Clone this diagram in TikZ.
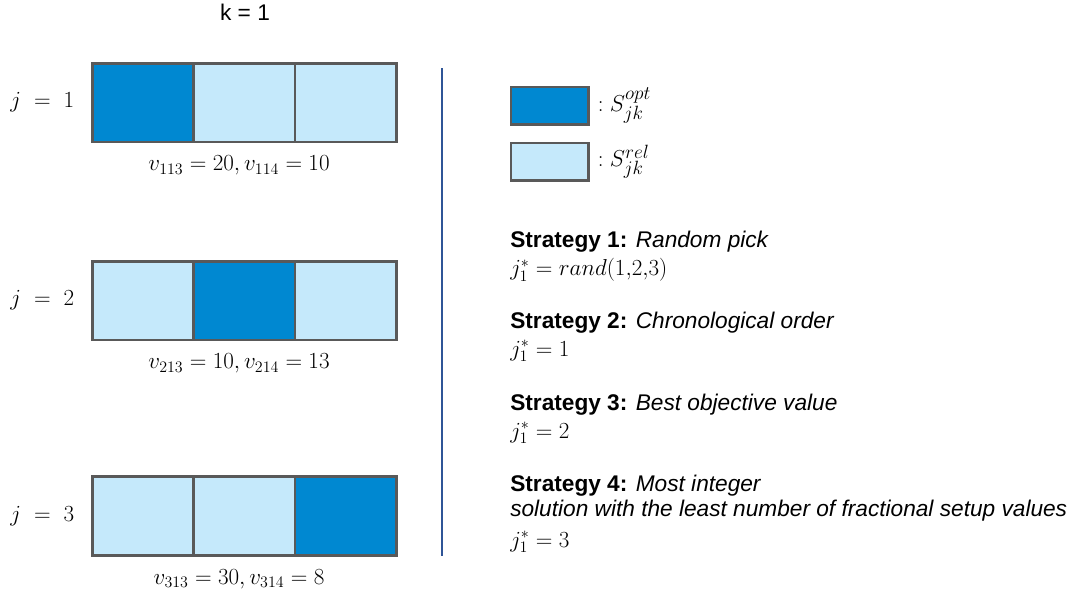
\documentclass[tikz,border=0pt]{standalone}
\usepackage[no-math]{fontspec}
\setmainfont{Liberation Sans}
\usetikzlibrary{positioning}
\definecolor{OptClr}{RGB}{0,136,209}
\definecolor{RelClr}{RGB}{197,233,251}
\definecolor{EdgeClr}{RGB}{89,89,89}
\definecolor{SepClr}{RGB}{47,85,151}

\begin{document}
\begin{tikzpicture}[x=0.75pt,y=-0.75pt,
  font=\fontsize{17}{20}\selectfont,
  cell/.style={draw=EdgeClr,line width=2pt,minimum width=76pt,minimum height=59pt,inner sep=0pt,outer sep=0pt},
  opt/.style={cell,fill=OptClr},
  rel/.style={cell,fill=RelClr},
  keybox/.style={draw=EdgeClr,line width=2pt,minimum width=58pt,minimum height=28pt,inner sep=0pt},
  keylabel/.style={font=\fontsize{19}{22}\selectfont,inner sep=0pt},
  mathtxt/.style={font=\fontsize{18}{20}\selectfont},
  txt/.style={anchor=west,inner sep=0pt}]
\useasboundingbox (0,0) rectangle (1074,596);

\node (k) at (245,12) {k = 1};

% j = 1
\node[opt] (c11) at (143,102.5) {};
\node[rel,right=0pt of c11] (c12) {};
\node[rel,right=0pt of c12] (c13) {};
\node[mathtxt,left=10pt of c11] (j1) {$j\ =\ 1$};
\node[mathtxt,below=7pt of c12,xshift=-4pt] (v1) {$v_{113}=20,v_{114}=10$};

% j = 2
\node[rel] (c21) at (143,300.5) {};
\node[opt,right=0pt of c21] (c22) {};
\node[rel,right=0pt of c22] (c23) {};
\node[mathtxt,left=10pt of c21] (j2) {$j\ =\ 2$};
\node[mathtxt,below=7pt of c22,xshift=-4pt] (v2) {$v_{213}=10,v_{214}=13$};

% j = 3
\node[rel] (c31) at (143,516) {};
\node[rel,right=0pt of c31] (c32) {};
\node[opt,right=0pt of c32] (c33) {};
\node[mathtxt,left=10pt of c31] (j3) {$j\ =\ 3$};
\node[mathtxt,below=7pt of c32,xshift=-4pt] (v3) {$v_{313}=30,v_{314}=8$};

\coordinate (s1) at (442,68);
\coordinate (s2) at (442,556);
\draw[SepClr,line width=1pt] (s1) -- (s2);

% legend
\node[keybox,fill=OptClr] (kopt) at (549.5,105.5) {};
\node[keybox,fill=RelClr,below=12pt of kopt] (krel) {};
\node[keylabel,right=6pt of kopt] (lopt) {$:S_{jk}^{opt}$};
\node[keylabel,right=6pt of krel] (lrel) {$:S_{jk}^{rel}$};

% strategies
\node[txt] (st1) at (510,242) {\textbf{Strategy 1:} \textit{Random pick}};
\node[txt,mathtxt] (eq1) at (510,270) {$j_1^*=rand(1{,}2{,}3)$};
\node[txt] (st2) at (510,323) {\textbf{Strategy 2:} \textit{Chronological order}};
\node[txt,mathtxt] (eq2) at (510,351) {$j_1^*=1$};
\node[txt] (st3) at (510,405) {\textbf{Strategy 3:} \textit{Best objective value}};
\node[txt,mathtxt] (eq3) at (510,433) {$j_1^*=2$};
\node[txt] (st4) at (510,486) {\textbf{Strategy 4:} \textit{Most integer}};
\node[txt] (st4b) at (510,511) {\textit{solution with the least number of fractional setup values}};
\node[txt,mathtxt] (eq4) at (510,542) {$j_1^*=3$};

\end{tikzpicture}
\end{document}
